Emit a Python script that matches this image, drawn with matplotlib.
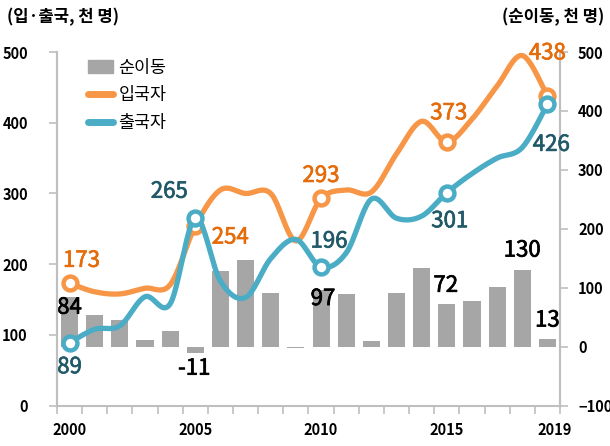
import numpy as np
import matplotlib.pyplot as plt
import matplotlib.transforms as mtransforms
import matplotlib.patheffects as pe
from matplotlib.patches import Patch
from matplotlib.lines import Line2D

plt.rcParams['font.family'] = ['Noto Sans CJK KR', 'DejaVu Sans']

years = list(range(2000, 2020))
tick_years = [2000, 2005, 2010, 2015, 2019]
# 입국자 / 출국자 (left axis), 순이동 (right axis), thousand persons
immigrants = [173, 161, 158, 166, 171, 254, 305, 300, 300, 233,
              293, 305, 302, 356, 402, 373, 405, 452, 495, 438]
emigrants = [89, 108, 113, 154, 144, 265, 176, 153, 208, 235,
             196, 216, 292, 265, 268, 301, 328, 350, 365, 426]
net = [84, 53, 45, 12, 27, -11, 129, 147, 92, -2,
       97, 89, 10, 91, 134, 72, 77, 102, 130, 13]

ORANGE = '#F79646'
ORANGE_TXT = '#E46C0A'
TEAL = '#4BACC6'
TEAL_TXT = '#215968'
GRAY = '#A6A6A6'
SPINE = '#BFBFBF'


def smooth(x, y, n=24):
    """Excel-like smoothed line (Catmull-Rom through Bezier)."""
    x = np.asarray(x, float)
    y = np.asarray(y, float)
    px = np.concatenate([[x[0]], x, [x[-1]]])
    py = np.concatenate([[y[0]], y, [y[-1]]])
    t = np.linspace(0, 1, n)
    xs, ys = [], []
    for i in range(len(x) - 1):
        x0, x1, x2, x3 = px[i:i + 4]
        y0, y1, y2, y3 = py[i:i + 4]
        cx1, cy1 = x1 + (x2 - x0) / 6, y1 + (y2 - y0) / 6
        cx2, cy2 = x2 - (x3 - x1) / 6, y2 - (y3 - y1) / 6
        b0 = (1 - t) ** 3
        b1 = 3 * (1 - t) ** 2 * t
        b2 = 3 * (1 - t) * t ** 2
        b3 = t ** 3
        xs.append(b0 * x1 + b1 * cx1 + b2 * cx2 + b3 * x2)
        ys.append(b0 * y1 + b1 * cy1 + b2 * cy2 + b3 * y2)
    return np.concatenate(xs), np.concatenate(ys)


def heavier(color):
    # regular weight plus a thin outline ~ a medium weight
    return [pe.withStroke(linewidth=0.5, foreground=color)]


fig = plt.figure(figsize=(6.1, 4.46), dpi=100)
ax2 = fig.add_axes([0.0934, 0.0904, 0.8246, 0.793])
ax = ax2.twinx()
# lines axis (the twin, drawn on top) gets the left-hand scale
ax.yaxis.tick_left()
ax2.yaxis.tick_right()
ax.patch.set_visible(False)

x = np.arange(len(years))
ax2.bar(x, net, width=0.68, color=GRAY, zorder=1)

sx, sy = smooth(x, immigrants)
ax.plot(sx, sy, color=ORANGE, lw=3.8, solid_capstyle='round', zorder=3)
mk = [years.index(y) for y in tick_years]
ax.plot(x[mk], np.array(immigrants)[mk], 'o', ms=10, mfc='white', mec=ORANGE,
        mew=3.2, zorder=4)
sx, sy = smooth(x, emigrants)
ax.plot(sx, sy, color=TEAL, lw=3.8, solid_capstyle='round', zorder=5)
ax.plot(x[mk], np.array(emigrants)[mk], 'o', ms=10, mfc='white', mec=TEAL,
        mew=3.2, zorder=6)

# axes ranges
ax2.set_xlim(-0.5, len(years) - 0.5)
ax.set_ylim(0, 500)
ax2.set_ylim(-100, 500)
ax.set_yticks(range(0, 501, 100))
ax2.set_yticks(range(-100, 501, 100))

ax2.set_xticks(mk)
ax2.set_xticklabels([str(y) for y in tick_years])
ax2.set_xticks(np.arange(-0.5, len(years)), minor=True)
ax2.tick_params(axis='x', which='major', length=0, pad=12)
ax2.tick_params(axis='x', which='minor', length=6, width=1.2, color=SPINE,
                direction='out')
ax.tick_params(axis='y', length=6, width=1.2, color=SPINE, pad=15)
ax2.tick_params(axis='y', length=6, width=1.2, color=SPINE, pad=7)
for a in (ax, ax2):
    for lab in a.get_xticklabels() + a.get_yticklabels():
        lab.set_fontsize(10.5)
        lab.set_fontweight('bold')
    for s in a.spines.values():
        s.set_color(SPINE)
        s.set_linewidth(1.5)
    a.spines['top'].set_visible(False)
ax.spines['bottom'].set_visible(False)
# last year label sits a bit to the right, as in the original
last = ax2.get_xticklabels()[-1]
last.set_transform(last.get_transform() +
                   mtransforms.ScaledTranslation(0.07, 0, fig.dpi_scale_trans))

# line labels: (series, year, pixel offset, color)
line_labels = [
    (immigrants, 2000, (12, 23), ORANGE_TXT),
    (emigrants, 2000, (0, -24), TEAL_TXT),
    (emigrants, 2005, (-26, 27), TEAL_TXT),
    (immigrants, 2005, (35, -11), ORANGE_TXT),
    (immigrants, 2010, (0, 23), ORANGE_TXT),
    (emigrants, 2010, (8, 26), TEAL_TXT),
    (immigrants, 2015, (2, 29), ORANGE_TXT),
    (emigrants, 2015, (3, -28), TEAL_TXT),
    (immigrants, 2019, (0, 43), ORANGE_TXT),
    (emigrants, 2019, (4, -40), TEAL_TXT),
]
for series, yr, off, col in line_labels:
    i = years.index(yr)
    ax.annotate(str(series[i]), (i, series[i]), xytext=off,
                textcoords='offset pixels', ha='center', va='center',
                fontsize=16, color=col, zorder=7, path_effects=heavier(col))

bar_labels = {2000: (0, -10), 2005: (-1, -15), 2010: (2, -9),
              2015: (-1, 19), 2018: (0, 20), 2019: (0, 19)}
for yr, off in bar_labels.items():
    i = years.index(yr)
    ax2.annotate(str(net[i]), (i, net[i]), xytext=off,
                 textcoords='offset pixels', ha='center', va='center',
                 fontsize=16, color='black', zorder=2,
                 path_effects=heavier('black'))

handles = [Patch(color=GRAY),
           Line2D([], [], color=ORANGE, lw=5, solid_capstyle='round'),
           Line2D([], [], color=TEAL, lw=5, solid_capstyle='round')]
ax.legend(handles, ['순이동', '입국자', '출국자'], loc='upper left',
          bbox_to_anchor=(0.130, 0.888), bbox_transform=fig.transFigure,
          frameon=False, fontsize=12.5, handlelength=1.45, handletextpad=0.3,
          labelspacing=0.55, borderpad=0)

fig.text(0.012, 0.962, '(입·출국, 천 명)', fontsize=12, fontweight='bold',
         ha='left', va='center')
fig.text(0.99, 0.962, '(순이동, 천 명)', fontsize=12, fontweight='bold',
         ha='right', va='center')

fig.savefig('out.png', dpi=100)
